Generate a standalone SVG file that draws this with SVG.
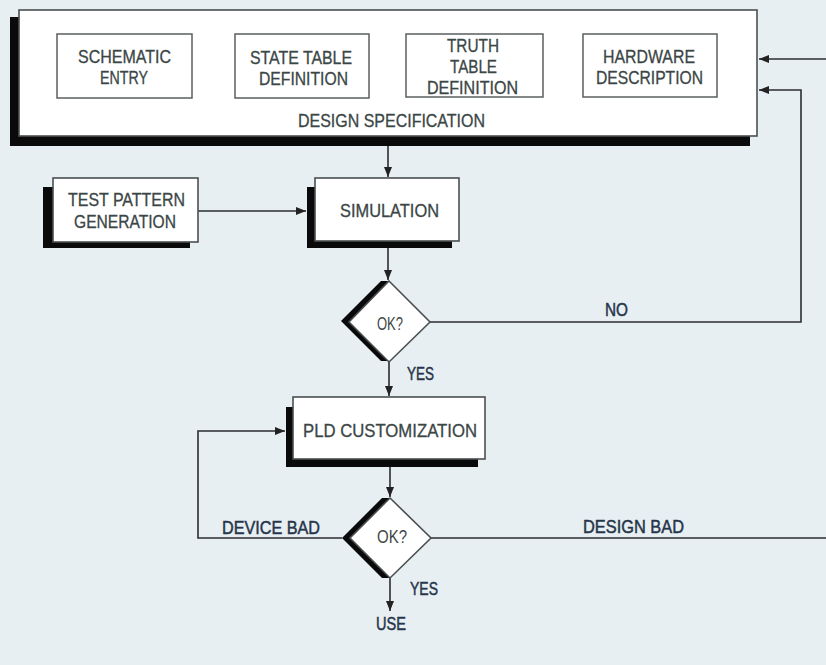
<svg xmlns="http://www.w3.org/2000/svg" width="826" height="665" viewBox="0 0 826 665">
<defs>
<marker id="ah" viewBox="0 0 10 8" refX="10" refY="4" markerWidth="10" markerHeight="8" markerUnits="userSpaceOnUse" orient="auto">
<path d="M0,0 L10,4 L0,8 z" fill="#222"/>
</marker>
</defs>
<style>
.bg{fill:#e8eff3}
.shadow{fill:#0a0a0a}
.box{fill:#ffffff;stroke:#4a4f50;stroke-width:1.6}
.inner{fill:#ffffff;stroke:#5a5f60;stroke-width:1.5}
.t{font-family:"Liberation Sans",Arial,sans-serif;font-size:18px;fill:#3b4646;stroke:#3b4646;stroke-width:0.3;text-anchor:middle}
.lbl{font-family:"Liberation Sans",Arial,sans-serif;font-size:19px;fill:#26354a;stroke:#26354a;stroke-width:0.5;text-anchor:middle}
.ok{font-family:"Liberation Sans",Arial,sans-serif;font-size:18px;fill:#3b4646;text-anchor:middle}
.c{fill:none;stroke:#2a2e30;stroke-width:1.6}
</style>
<rect class="bg" x="0" y="0" width="826" height="665"/>

<g id="connectors">
<path class="c" d="M388,146 V177" marker-end="url(#ah)"/>
<path class="c" d="M198,211 H306" marker-end="url(#ah)"/>
<path class="c" d="M388,248 V280" marker-end="url(#ah)"/>
<path class="c" d="M389,362 V396" marker-end="url(#ah)"/>
<path class="c" d="M430,322 H801 V90 H759" marker-end="url(#ah)"/>
<path class="c" d="M826,59 H759" marker-end="url(#ah)"/>
<path class="c" d="M390,467 V497" marker-end="url(#ah)"/>
<path class="c" d="M342,538 H198 V431 H285" marker-end="url(#ah)"/>
<path class="c" d="M431,538 H826"/>
<path class="c" d="M390,578 V611" marker-end="url(#ah)"/>
</g>

<g id="design-spec">
<rect class="shadow" x="10" y="17" width="740" height="129"/>
<rect class="box" x="19" y="10" width="738" height="126"/>
<text class="t" x="391.5" y="127" textLength="187" lengthAdjust="spacingAndGlyphs">DESIGN SPECIFICATION</text>
</g>
<g id="schematic-entry">
<rect class="inner" x="57" y="34" width="135" height="64"/>
<text class="t" x="124.5" y="63" textLength="93" lengthAdjust="spacingAndGlyphs">SCHEMATIC</text>
<text class="t" x="124" y="84" textLength="48" lengthAdjust="spacingAndGlyphs">ENTRY</text>
</g>
<g id="state-table">
<rect class="inner" x="235" y="34" width="134" height="64"/>
<text class="t" x="301" y="64" textLength="102" lengthAdjust="spacingAndGlyphs">STATE TABLE</text>
<text class="t" x="303.5" y="85" textLength="89" lengthAdjust="spacingAndGlyphs">DEFINITION</text>
</g>
<g id="truth-table">
<rect class="inner" x="406" y="34" width="137" height="63"/>
<text class="t" x="473" y="52" textLength="52" lengthAdjust="spacingAndGlyphs">TRUTH</text>
<text class="t" x="473.5" y="73" textLength="47" lengthAdjust="spacingAndGlyphs">TABLE</text>
<text class="t" x="472.5" y="94" textLength="91" lengthAdjust="spacingAndGlyphs">DEFINITION</text>
</g>
<g id="hardware-description">
<rect class="inner" x="583" y="34" width="134" height="63"/>
<text class="t" x="649" y="63" textLength="92" lengthAdjust="spacingAndGlyphs">HARDWARE</text>
<text class="t" x="649.5" y="84" textLength="107" lengthAdjust="spacingAndGlyphs">DESCRIPTION</text>
</g>

<g id="test-pattern">
<rect class="shadow" x="43" y="187" width="147" height="61"/>
<rect class="box" x="53" y="178" width="145" height="64"/>
<text class="t" x="126.5" y="206" textLength="117" lengthAdjust="spacingAndGlyphs">TEST PATTERN</text>
<text class="t" x="125" y="228" textLength="102" lengthAdjust="spacingAndGlyphs">GENERATION</text>
</g>

<g id="simulation">
<rect class="shadow" x="307" y="187" width="145" height="61"/>
<rect class="box" x="315" y="178" width="144" height="63"/>
<text class="t" x="389.5" y="217" textLength="99" lengthAdjust="spacingAndGlyphs">SIMULATION</text>
</g>

<g id="decision-1">
<polygon class="shadow" points="381,281 341,321 381,361 389,361 389,281"/>
<polygon class="box" points="389,281 430,322 389,362 349,322"/>
<text class="ok" x="390" y="330" textLength="26" lengthAdjust="spacingAndGlyphs">OK?</text>
</g>
<g id="label-no"><text class="lbl" x="616.5" y="316" textLength="23" lengthAdjust="spacingAndGlyphs">NO</text></g>
<g id="label-yes-1"><text class="lbl" x="420.5" y="380" textLength="27" lengthAdjust="spacingAndGlyphs">YES</text></g>

<g id="pld-customization">
<rect class="shadow" x="286" y="407" width="192" height="60"/>
<rect class="box" x="293" y="397" width="192" height="62"/>
<text class="t" x="390" y="437" textLength="174" lengthAdjust="spacingAndGlyphs">PLD CUSTOMIZATION</text>
</g>

<g id="decision-2">
<polygon class="shadow" points="382,498 342,538 382,578 390,578 390,498"/>
<polygon class="box" points="390,498 431,538 390,578 350,538"/>
<text class="ok" x="392" y="543" textLength="30" lengthAdjust="spacingAndGlyphs">OK?</text>
</g>
<g id="label-device-bad"><text class="lbl" x="271" y="534" textLength="98" lengthAdjust="spacingAndGlyphs">DEVICE BAD</text></g>
<g id="label-design-bad"><text class="lbl" x="633.5" y="533" textLength="101" lengthAdjust="spacingAndGlyphs">DESIGN BAD</text></g>
<g id="label-yes-2"><text class="lbl" x="424" y="595" textLength="28" lengthAdjust="spacingAndGlyphs">YES</text></g>
<g id="use"><text class="lbl" x="391" y="630" textLength="30" lengthAdjust="spacingAndGlyphs">USE</text></g>
</svg>
